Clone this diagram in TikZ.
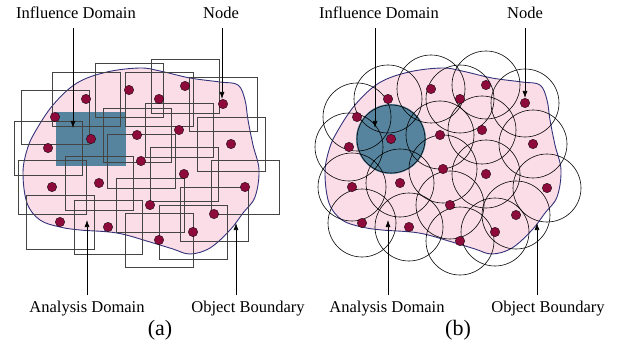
\documentclass[tikz,border=0pt]{standalone}
\usepackage{fontspec}
\setmainfont{Liberation Serif}
\usetikzlibrary{arrows.meta}
\definecolor{blobfill}{HTML}{FBDDE8}
\definecolor{blobline}{HTML}{33337A}
\definecolor{dotred}{HTML}{8C0B3B}
\definecolor{tealdom}{HTML}{56849E}
\definecolor{rectgray}{HTML}{444444}
\tikzset{
  blob/.style={fill=blobfill, draw=blobline, line width=0.9pt},
  dotnode/.style={circle, fill=dotred, draw=black, line width=0.3pt, minimum size=9.5pt, inner sep=0pt},
  rectdom/.style={draw=rectgray, line width=0.9pt, minimum width=68pt, minimum height=54pt, inner sep=0pt},
  circdom/.style={circle, draw=black, line width=0.6pt, minimum size=68pt, inner sep=0pt},
  tealsq/.style={fill=tealdom, minimum width=70pt, minimum height=54pt, inner sep=0pt},
  tealci/.style={circle, fill=tealdom, minimum size=70pt, inner sep=0pt},
  lbl/.style={font=\fontsize{16.5}{19}\selectfont, inner sep=0pt, anchor=base},
  caplbl/.style={font=\fontsize{22}{24}\selectfont, inner sep=0pt, anchor=base},
  arr/.style={-{Latex[length=7pt,width=5pt]}, line width=0.7pt, black}
}
\begin{document}
\begin{tikzpicture}[x=1pt,y=-1pt]
\useasboundingbox (0,0) rectangle (630,345);
\def\blobpts{(23,173) (27,150) (35,132) (53,105) (77,83) (107,72) (140,68) (160,71) (190,78) (220,82) (238,85) (245,100) (248,120) (253,145) (259,170) (255,197) (243,213) (230,230) (210,248) (190,254) (173,249) (150,242) (117,233) (80,230) (60,227) (40,220) (27,203)}
% ---------------- panel (a)
\draw[blob] plot[smooth cycle, tension=0.6] coordinates {\blobpts};
\node[tealsq] (tsq) at (91,139) {};
\foreach \i/\x/\y in {1/55/117,2/86/99,3/129/90,4/159/99,5/185/86,6/223/104,8/48/148,9/137/135,10/179/130,11/231/144,12/141/161,13/184/174,14/52/187,15/99/183,16/245/187,17/150/205,18/214/214,19/60/222,20/108/227,21/193/232,22/159/240}
  {\node[rectdom] (ra\i) at (\x,\y) {};}
\foreach \i/\x/\y in {1/55/117,2/86/99,3/129/90,4/159/99,5/185/86,6/223/104,7/91/139,8/48/148,9/137/135,10/179/130,11/231/144,12/141/161,13/184/174,14/52/187,15/99/183,16/245/187,17/150/205,18/214/214,19/60/222,20/108/227,21/193/232,22/159/240}
  {\node[dotnode] (a\i) at (\x,\y) {};}
\node[lbl] (aIA) at (76,19) {Influence Domain};
\node[lbl] (aND) at (221,19) {Node};
\node[lbl] (aAD) at (87,312) {Analysis Domain};
\node[lbl] (aOB) at (248,312) {Object Boundary};
\node[caplbl] (aCap) at (160,335) {(a)};
\coordinate (aIA1) at (73,28); \coordinate (aIA2) at (73,128);
\coordinate (aND1) at (222,28); \coordinate (aND2) at (222,99);
\coordinate (aAD1) at (87,295); \coordinate (aAD2) at (87,220);
\coordinate (aOB1) at (236,295); \coordinate (aOB2) at (236,223);
\draw[arr] (aIA1) -- (aIA2);
\draw[arr] (aND1) -- (aND2);
\draw[arr] (aAD1) -- (aAD2);
\draw[arr] (aOB1) -- (aOB2);
% ---------------- panel (b)
\begin{scope}[shift={(302,0)}]
\draw[blob] plot[smooth cycle, tension=0.6] coordinates {\blobpts};
\end{scope}
\node[tealci] (tci) at (391,139) {};
\foreach \i/\x/\y in {1/357/117,2/388/99,3/431/89,4/460/99,5/486/85,6/525/103,7/391/139,8/349/147,9/440/135,10/482/130,11/533/144,12/443/169,13/486/174,14/352/187,15/400/183,16/547/188,17/450/205,18/516/215,19/362/223,20/409/227,21/495/232,22/460/241}
  {\node[circdom] (cb\i) at (\x,\y) {};}
\foreach \i/\x/\y in {1/357/117,2/388/99,3/431/89,4/460/99,5/486/85,6/525/103,7/391/139,8/349/147,9/440/135,10/482/130,11/533/144,12/443/169,13/486/174,14/352/187,15/400/183,16/547/188,17/450/205,18/516/215,19/362/223,20/409/227,21/495/232,22/460/241}
  {\node[dotnode] (b\i) at (\x,\y) {};}
\node[lbl] (bIA) at (379,19) {Influence Domain};
\node[lbl] (bND) at (525,19) {Node};
\node[lbl] (bAD) at (387,312) {Analysis Domain};
\node[lbl] (bOB) at (548,312) {Object Boundary};
\node[caplbl] (bCap) at (458,335) {(b)};
\coordinate (bIA1) at (375,28); \coordinate (bIA2) at (375,128);
\coordinate (bND1) at (525,28); \coordinate (bND2) at (525,98);
\coordinate (bAD1) at (388,295); \coordinate (bAD2) at (388,220);
\coordinate (bOB1) at (537,295); \coordinate (bOB2) at (537,223);
\draw[arr] (bIA1) -- (bIA2);
\draw[arr] (bND1) -- (bND2);
\draw[arr] (bAD1) -- (bAD2);
\draw[arr] (bOB1) -- (bOB2);
\end{tikzpicture}
\end{document}
